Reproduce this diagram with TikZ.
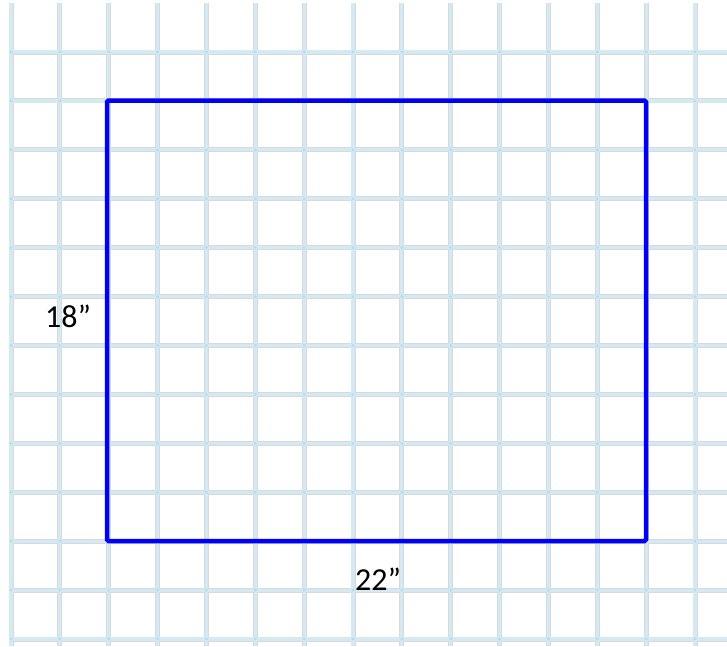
\documentclass[tikz,border=0pt]{standalone}
\usepackage{fontspec}
\setmainfont{Carlito}
\definecolor{gridedge}{RGB}{214,218,220}
\definecolor{gridfill}{RGB}{212,233,241}
\definecolor{gridknot}{RGB}{180,220,235}
\definecolor{boxblue}{RGB}{0,0,245}
\tikzset{
  gridbase/.style={draw=gridedge,line width=5pt},
  gridtop/.style={draw=gridfill,line width=3.2pt},
  outline/.style={draw=boxblue,line width=4.5pt,rounded corners=1.5pt},
  dimlabel/.style={font=\fontsize{32}{36}\selectfont,text=black,inner sep=0pt}
}
\begin{document}
\begin{tikzpicture}[x=1pt,y=-1pt]
\useasboundingbox (0,0) rectangle (727,646);
\fill[white] (0,0) rectangle (727,646);
% grid base (grey edges)
\foreach \i in {0,...,14} {
  \draw[gridbase] ({11+48.86*\i},3) -- ({11+48.86*\i},646);
}
\foreach \j in {0,...,12} {
  \draw[gridbase] (10,{52+48.92*\j}) -- (727,{52+48.92*\j});
}
% grid fill (light blue)
\foreach \i in {0,...,14} {
  \draw[gridtop] ({11+48.86*\i},3) -- ({11+48.86*\i},646);
}
\foreach \j in {0,...,12} {
  \draw[gridtop] (10,{52+48.92*\j}) -- (727,{52+48.92*\j});
}
% knots
\foreach \i in {0,...,14} {
  \foreach \j in {0,...,12} {
    \fill[gridknot] ({11+48.86*\i},{52+48.92*\j}) circle (1.6pt);
  }
}
% rectangle
\coordinate (tl) at (107,100.5);
\coordinate (br) at (646,541);
\draw[outline] (tl) rectangle (br);
% labels
\node[dimlabel] (h) at (68,316) {18”};
\node[dimlabel] (w) at (378,579) {22”};
\end{tikzpicture}
\end{document}
